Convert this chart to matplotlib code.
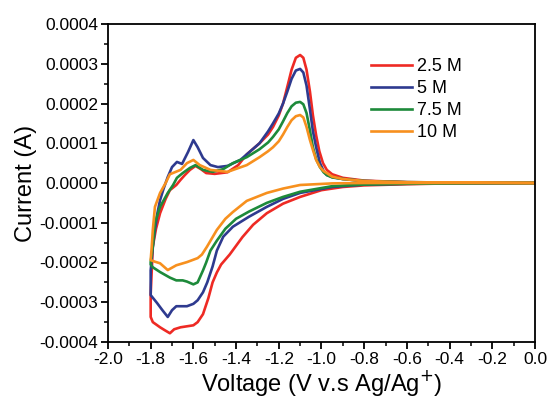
import matplotlib
matplotlib.use("Agg")
import matplotlib.pyplot as plt
import numpy as np
from matplotlib.ticker import MultipleLocator

plt.rcParams['font.family'] = ['Liberation Sans', 'DejaVu Sans']

# CV loops: start at 0 V, sweep down to -1.8 V (lower branch), back to 0 V (upper branch)
# currents in units of 1e-4 A
v_25 = [0, -0.4, -0.6, -0.8, -0.9, -1.0, -1.10, -1.18, -1.256, -1.32, -1.37, -1.43, -1.47, -1.49,
        -1.51, -1.53, -1.555, -1.58, -1.60, -1.66, -1.69, -1.71, -1.735, -1.756, -1.79, -1.80,
        -1.80, -1.795, -1.79, -1.775, -1.756, -1.73, -1.71, -1.68, -1.66, -1.64, -1.616, -1.59,
        -1.565, -1.54, -1.50, -1.44, -1.39, -1.35, -1.29, -1.25, -1.227, -1.20, -1.18, -1.16,
        -1.14, -1.12, -1.10, -1.085, -1.07, -1.054, -1.04, -1.025, -1.01, -0.993, -0.975,
        -0.95, -0.90, -0.8, -0.6, -0.4, 0]
i_25 = [0, -0.01, -0.03, -0.06, -0.1, -0.18, -0.35, -0.52, -0.76, -1.05, -1.36, -1.8, -2.05, -2.25,
        -2.5, -2.9, -3.3, -3.5, -3.58, -3.63, -3.68, -3.78, -3.7, -3.63, -3.5, -3.37,
        -2.8, -2.2, -1.6, -1.15, -0.76, -0.4, -0.18, -0.05, 0.08, 0.2, 0.33, 0.43,
        0.35, 0.25, 0.23, 0.27, 0.45, 0.72, 1.0, 1.22, 1.41, 1.7, 2.0, 2.42,
        2.85, 3.15, 3.22, 3.15, 2.85, 2.3, 1.7, 1.2, 0.8, 0.5, 0.33,
        0.22, 0.13, 0.06, 0.02, 0.01, 0]

v_5 = [0, -0.4, -0.6, -0.8, -0.95, -1.10, -1.18, -1.256, -1.34, -1.415, -1.46, -1.49, -1.51, -1.535,
       -1.555, -1.58, -1.60, -1.63, -1.68, -1.70, -1.72, -1.745, -1.77, -1.80,
       -1.80, -1.79, -1.78, -1.77, -1.756, -1.74, -1.72, -1.70, -1.677, -1.653, -1.625, -1.60,
       -1.58, -1.555, -1.52, -1.485, -1.44, -1.38, -1.29, -1.25, -1.227, -1.20, -1.18, -1.16,
       -1.14, -1.12, -1.10, -1.085, -1.07, -1.054, -1.04, -1.025, -1.007, -0.99, -0.975,
       -0.95, -0.9, -0.8, -0.6, 0]
i_5 = [0, -0.01, -0.02, -0.04, -0.1, -0.25, -0.4, -0.6, -0.85, -1.1, -1.35, -1.7, -2.1, -2.5,
       -2.75, -2.95, -3.04, -3.1, -3.1, -3.2, -3.37, -3.2, -3.02, -2.82,
       -2.2, -1.6, -1.18, -0.8, -0.43, -0.15, 0.15, 0.4, 0.53, 0.48, 0.78, 1.08,
       0.9, 0.63, 0.45, 0.4, 0.43, 0.58, 1.0, 1.3, 1.5, 1.75, 2.0, 2.3,
       2.62, 2.83, 2.87, 2.78, 2.45, 1.85, 1.3, 0.9, 0.5, 0.3, 0.2,
       0.15, 0.1, 0.05, 0.02, 0]

v_75 = [0, -0.6, -0.8, -0.95, -1.10, -1.18, -1.256, -1.34, -1.40, -1.45, -1.49, -1.52, -1.54,
        -1.555, -1.58, -1.60, -1.63, -1.65, -1.68, -1.71, -1.756, -1.79, -1.80,
        -1.80, -1.795, -1.79, -1.78, -1.756, -1.72, -1.695, -1.677, -1.65, -1.616, -1.59,
        -1.555, -1.51, -1.46, -1.415, -1.35, -1.29, -1.25, -1.227, -1.20, -1.18, -1.16,
        -1.14, -1.12, -1.10, -1.085, -1.07, -1.055, -1.04, -1.025, -1.007, -0.99, -0.975,
        -0.95, -0.9, -0.8, -0.6, 0]
i_75 = [0, -0.02, -0.04, -0.08, -0.22, -0.35, -0.5, -0.72, -0.9, -1.15, -1.45, -1.7, -2.0,
        -2.2, -2.5, -2.55, -2.48, -2.45, -2.45, -2.38, -2.24, -2.12, -2.05,
        -1.99, -1.8, -1.6, -1.0, -0.6, -0.25, -0.05, 0.13, 0.25, 0.38, 0.45,
        0.33, 0.28, 0.35, 0.5, 0.65, 0.85, 1.02, 1.16, 1.35, 1.55, 1.76,
        1.93, 2.02, 2.04, 1.98, 1.76, 1.35, 0.9, 0.6, 0.4, 0.27, 0.2,
        0.14, 0.1, 0.05, 0.02, 0]

v_10 = [0, -0.8, -0.95, -1.10, -1.18, -1.256, -1.35, -1.415, -1.45, -1.49, -1.536, -1.56, -1.58,
        -1.63, -1.68, -1.72, -1.756, -1.78, -1.80,
        -1.795, -1.79, -1.78, -1.756, -1.73, -1.71, -1.66, -1.63, -1.60, -1.57, -1.52, -1.44,
        -1.35, -1.29, -1.25, -1.227, -1.20, -1.18, -1.16, -1.14, -1.12, -1.10, -1.085, -1.07,
        -1.055, -1.04, -1.025, -1.007, -0.99, -0.975, -0.95, -0.9, -0.8, -0.6, 0]
i_10 = [0, 0.0, -0.01, -0.05, -0.14, -0.25, -0.45, -0.73, -0.9, -1.18, -1.6, -1.8, -1.89,
        -1.99, -2.07, -2.19, -2.02, -1.98, -1.94,
        -1.6, -1.18, -0.6, -0.25, 0.0, 0.22, 0.33, 0.5, 0.58, 0.45, 0.33, 0.28,
        0.45, 0.65, 0.8, 0.9, 1.05, 1.22, 1.41, 1.58, 1.68, 1.71, 1.65, 1.41,
        1.1, 0.83, 0.58, 0.4, 0.3, 0.25, 0.16, 0.1, 0.05, 0.02, 0]

labels = ["2.5 M", "5 M", "7.5 M", "10 M"]
colors = ["#ee2a24", "#2e3a8f", "#1d8a3a", "#f7901e"]
series = [(v_25, i_25), (v_5, i_5), (v_75, i_75), (v_10, i_10)]

fig = plt.figure(figsize=(5.47, 4.0), dpi=100)
ax = fig.add_axes([0.1974, 0.145, 0.7806, 0.795])

for (v, i), lab, c in zip(series, labels, colors):
    ax.plot(v, np.array(i) * 1e-4, color=c, lw=1.9, label=lab, solid_joinstyle='round')

ax.set_xlim(-2.0, 0.0)
ax.set_ylim(-0.0004, 0.0004)
xt = [-2.0, -1.8, -1.6, -1.4, -1.2, -1.0, -0.8, -0.6, -0.4, -0.2, 0.0]
ax.set_xticks(xt)
ax.set_xticklabels(["%.1f" % t for t in xt])
yt = [-0.0004, -0.0003, -0.0002, -0.0001, 0.0, 0.0001, 0.0002, 0.0003, 0.0004]
ax.set_yticks(yt)
ax.set_yticklabels(["%.4f" % t if t != 0 else "0.0000" for t in yt])
ax.xaxis.set_minor_locator(MultipleLocator(0.1))
ax.yaxis.set_minor_locator(MultipleLocator(0.00005))
ax.tick_params(which='major', direction='out', length=5, width=1.3, labelsize=12.5, pad=2)
ax.tick_params(which='minor', direction='out', length=3, width=1.1)
for s in ax.spines.values():
    s.set_linewidth(1.3)

ax.set_xlabel("Voltage (V v.s Ag/Ag$^{+}$)", fontsize=17, labelpad=1)
ax.set_ylabel("Current (A)", fontsize=17, labelpad=2)

ax.legend(loc='upper left', bbox_to_anchor=(0.615, 0.893), frameon=False, fontsize=13,
          handlelength=2.3, handletextpad=0.25, labelspacing=0.28, borderpad=0, borderaxespad=0)

fig.savefig("out.png", dpi=100)
